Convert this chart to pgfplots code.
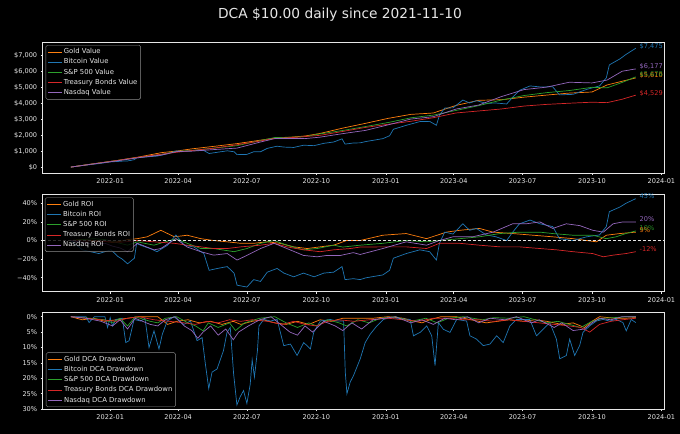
\documentclass[border=0pt]{standalone}
\usepackage{fontspec}
\setmainfont{DejaVu Sans}
\usepackage{pgfplots}
\pgfplotsset{compat=1.18}
\definecolor{cgold}{HTML}{FF7F0E}
\definecolor{cbtc}{HTML}{1F77B4}
\definecolor{csp}{HTML}{2CA02C}
\definecolor{ctb}{HTML}{D62728}
\definecolor{cnq}{HTML}{9467BD}
\definecolor{fg}{HTML}{E6E6E6}
\newcommand{\sz}{\fontsize{6.6}{7.6}\selectfont}
\newcommand{\lz}{\fontsize{6.9}{7.9}\selectfont}
\pgfplotsset{
 darkax/.style={
  scale only axis, width=621.3bp, clip=false,
  axis background/.style={fill=black},
  axis line style={fg, line width=0.6bp},
  every tick/.style={fg, line width=0.6bp},
  tick align=outside, major tick length=2bp,
  xtick pos=lower, ytick pos=left,
  ticklabel style={font=\sz, text=fg},
  xmin=-37.4, xmax=785.4,
  xtick={52,142,233,325,417,507,598,690,782},
  xticklabels={2022-01,2022-04,2022-07,2022-10,2023-01,2023-04,2023-07,2023-10,2024-01},
  legend style={fill=black, fill opacity=0.8, text opacity=1, draw=white!55!black,
    rounded corners=1.5bp, font=\lz, text=fg, inner sep=1.8bp,
    nodes={inner sep=1.45bp}, row sep=0.6bp},
  legend cell align=left,
  legend image code/.code={\draw[#1] (0bp,0bp) -- (14bp,0bp);},
  label style={font=\sz, text=fg},
  every axis plot/.append style={line width=0.7bp},
 },
 sg/.style={draw=cgold, color=cgold},
 sb/.style={draw=cbtc, color=cbtc},
 ss/.style={draw=csp, color=csp},
 st/.style={draw=ctb, color=ctb},
 sn/.style={draw=cnq, color=cnq},
}
\begin{document}
\begin{tikzpicture}
\fill[black] (0,0) rectangle (680bp,-434bp);
\node[anchor=base, font=\fontsize{13.8}{16}\selectfont, text=fg] at (340bp,-18.3bp) {DCA \$10.00 daily since 2021-11-10};

% ---------------- Top: value ----------------
\begin{axis}[darkax, at={(42.7bp,-173bp)}, anchor=south west, height=130.7bp,
  ymin=-363, ymax=7848,
  ytick={0,1000,2000,3000,4000,5000,6000,7000},
  yticklabels={{\$0},{\$1,000},{\$2,000},{\$3,000},{\$4,000},{\$5,000},{\$6,000},{\$7,000}},
  ylabel={Total Value (USD)},
  every axis y label/.style={at={(axis description cs:-0.059,0.5)}, rotate=90, anchor=center},
  legend style={at={(0.0048,0.979)}, anchor=north west}]
\addplot[sg] coordinates {(0,10)(30,216)(60,416)(90,644)(120,917)(140,1016)(160,1153)(190,1315)(220,1483)(250,1693)(270,1828)(290,1882)(310,1962)(330,2122)(360,2458)(390,2756)(420,3069)(450,3319)(480,3407)(510,3883)(540,4204)(570,4240)(600,4401)(630,4533)(660,4658)(690,4726)(710,5167)(730,5402)(748,5610)};
\addlegendentry{Gold Value}
\addplot[sb] coordinates {(0,10)(8,62)(15,102)(26,166)(37,227)(45,281)(53,337)(62,362)(68,382)(75,394)(84,475)(87,590)(92,610)(106,672)(114,698)(128,845)(139,1023)(150,989)(163,1051)(176,1048)(183,862)(194,940)(207,1031)(216,971)(220,791)(233,806)(242,970)(251,971)(260,1185)(273,1320)(282,1266)(295,1243)(308,1382)(322,1355)(335,1502)(348,1585)(359,1783)(363,1452)(374,1522)(383,1532)(391,1618)(413,1794)(422,1978)(427,2384)(444,2632)(462,2866)(475,2880)(484,2635)(488,3262)(495,3718)(506,3730)(519,4220)(528,4037)(537,4180)(550,4016)(563,4033)(577,3974)(585,4392)(594,4827)(608,5108)(621,5046)(638,5052)(647,4544)(665,4579)(683,4890)(700,5108)(709,5613)(713,6429)(727,6805)(735,7083)(748,7475)};
\addlegendentry{Bitcoin Value}
\addplot[ss] coordinates {(0,10)(30,220)(60,414)(90,619)(120,809)(140,991)(160,1054)(190,1202)(220,1354)(250,1668)(270,1865)(290,1882)(310,1926)(330,2095)(360,2309)(390,2555)(420,2808)(450,3102)(480,3275)(510,3567)(540,3869)(570,4220)(600,4504)(630,4685)(660,4817)(690,5021)(710,4986)(730,5327)(748,5678)};
\addlegendentry{S\&P 500 Value}
\addplot[st] coordinates {(0,10)(30,214)(60,414)(90,628)(120,817)(140,940)(160,1047)(190,1202)(220,1410)(250,1642)(270,1809)(290,1852)(310,1926)(330,2004)(360,2247)(390,2501)(420,2698)(450,2885)(480,3110)(510,3409)(540,3534)(570,3659)(600,3843)(630,3948)(660,4021)(690,4085)(710,4057)(730,4271)(748,4529)};
\addlegendentry{Treasury Bonds Value}
\addplot[sn] coordinates {(0,10)(30,207)(60,392)(90,603)(120,767)(140,982)(160,1009)(190,1111)(220,1202)(250,1572)(270,1800)(290,1802)(310,1798)(330,1890)(360,2111)(390,2313)(420,2663)(450,3024)(480,3176)(510,3655)(540,3906)(570,4436)(600,4876)(630,5032)(660,5339)(690,5296)(710,5475)(730,6030)(748,6177)};
\addlegendentry{Nasdaq Value}
\node[anchor=base west, inner sep=0pt, font=\sz, text=cbtc] at (axis cs:753,7475) {\$7,475};
\node[anchor=base west, inner sep=0pt, font=\sz, text=cnq] at (axis cs:753,6177) {\$6,177};
\node[anchor=base west, inner sep=0pt, font=\sz, text=cgold] at (axis cs:753,5610) {\$5,610};
\node[anchor=base west, inner sep=0pt, font=\sz, text=csp, opacity=0.85] at (axis cs:753,5678) {\$5,678};
\node[anchor=base west, inner sep=0pt, font=\sz, text=ctb] at (axis cs:753,4529) {\$4,529};
\end{axis}

% ---------------- Middle: ROI ----------------
\begin{axis}[darkax, at={(42.7bp,-291.7bp)}, anchor=south west, height=97.7bp,
  ymin=-55, ymax=50,
  ytick={-40,-20,0,20,40},
  yticklabels={{−40\%},{−20\%},{0\%},{20\%},{40\%}},
  ylabel={\% Return},
  every axis y label/.style={at={(axis description cs:-0.047,0.5)}, rotate=90, anchor=center},
  legend style={at={(0.0037,0.964)}, anchor=north west}]
\addplot[sg] coordinates {(0,0)(15,1)(30,0)(45,-1)(55,-2)(65,-1)(75,1)(88,2)(101,4)(119,11)(137,4)(154,5.7)(172,2)(189,0)(207,-1.4)(225,-3)(242,-3)(260,-1.4)(277,-3)(295,-6.8)(313,-8.6)(330,-6.8)(348,-5)(365,0)(383,0)(413,5.7)(444,7.5)(471,2)(497,9)(515,11)(541,13)(559,9)(585,7.5)(612,5.7)(638,4)(665,2)(683,0)(696,-1.4)(709,5.7)(727,7.5)(748,9)};
\addlegendentry{Gold ROI}
\addplot[sb] coordinates {(0,0)(8,-5)(15,-10)(26,-12)(37,-14)(45,-12)(53,-10)(62,-17)(68,-20)(75,-25)(84,-19)(87,-3)(92,-5)(106,-9)(114,-12)(128,-5)(139,6)(150,-5)(163,-7)(176,-14)(183,-32)(194,-30)(207,-28)(216,-35)(220,-48)(233,-50)(242,-42)(251,-44)(260,-34)(273,-30)(282,-35)(295,-39)(308,-35)(322,-39)(335,-35)(348,-34)(359,-28)(363,-42)(374,-41)(383,-42)(391,-40)(413,-37)(422,-32)(427,-19)(444,-14)(462,-10)(475,-12)(484,-21)(488,-3)(495,9)(506,7)(519,18)(528,11)(537,13)(550,6)(563,4)(577,0)(585,9)(594,18)(608,22)(621,18)(638,15)(647,2)(665,0)(683,4)(700,6)(709,15)(713,31)(727,36)(735,40)(748,45)};
\addlegendentry{Bitcoin ROI}
\addplot[ss] coordinates {(0,0)(15,1)(30,2)(45,1)(55,-1)(65,-3)(75,-5)(88,-1.4)(110,-5)(139,2)(154,-3)(172,-8.6)(189,-8.6)(216,-12)(233,-8.6)(251,-3)(269,0)(286,-5)(308,-10)(326,-8.6)(348,-5)(360,-7)(383,-5)(413,-3)(444,0)(471,-1.4)(488,0)(515,2)(541,4)(568,7.5)(594,9)(621,9)(638,7.5)(665,5.7)(691,5.7)(709,2)(722,4)(735,7.5)(748,10.3)};
\addlegendentry{S\&P 500 ROI}
\addplot[st] coordinates {(0,0)(20,-0.5)(45,-1)(65,-2)(88,0)(110,-1.4)(137,-3)(154,-5)(172,-6.8)(189,-8.6)(207,-8.6)(225,-6.8)(251,-5)(269,-3)(286,-6.8)(308,-10)(330,-12)(348,-10)(370,-8.6)(383,-7)(413,-6.8)(444,-6.8)(471,-8.6)(488,-3)(515,-3)(541,-5)(568,-6.8)(594,-6.8)(621,-8.6)(643,-10)(665,-12)(691,-14)(705,-17.5)(718,-15.7)(735,-14)(748,-12)};
\addlegendentry{Treasury Bonds ROI}
\addplot[sn] coordinates {(0,0)(15,-2)(30,-4)(45,-3)(55,-6)(65,-8)(75,-12)(88,-3)(110,-10)(119,-8.6)(139,2)(154,-7)(172,-12)(189,-15.7)(207,-14)(220,-21)(233,-16)(251,-8.6)(269,-3)(286,-8.6)(308,-16)(326,-17.5)(339,-16)(357,-16)(374,-13)(383,-15)(413,-8.6)(444,-1.4)(471,-5)(488,0)(506,4)(532,4)(559,9)(585,18)(603,18)(621,20)(638,13)(656,18)(674,16)(691,11)(705,9)(718,18)(731,20)(748,20)};
\addlegendentry{Nasdaq ROI}
\addplot[fg, line width=0.6bp, dash pattern=on 3bp off 2bp, forget plot] coordinates {(-37.4,0)(785.4,0)};
\node[anchor=base west, inner sep=0pt, font=\sz, text=cbtc] at (axis cs:753,45) {45\%};
\node[anchor=base west, inner sep=0pt, font=\sz, text=cnq] at (axis cs:753,20) {20\%};
\node[anchor=base west, inner sep=0pt, font=\sz, text=cgold] at (axis cs:753,9) {9\%};
\node[anchor=base west, inner sep=0pt, font=\sz, text=csp, opacity=0.85] at (axis cs:753,10.3) {10\%};
\node[anchor=base west, inner sep=0pt, font=\sz, text=ctb] at (axis cs:753,-12) {-12\%};
\end{axis}

% ---------------- Bottom: drawdown ----------------
\begin{axis}[darkax, at={(42.7bp,-409.3bp)}, anchor=south west, height=97bp,
  ymin=-1.43, ymax=30.1, y dir=reverse,
  ytick={0,5,10,15,20,25,30},
  yticklabels={{0\%},{5\%},{10\%},{15\%},{20\%},{25\%},{30\%}},
  ylabel={Drawdown \%}, xlabel={Date},
  every axis y label/.style={at={(axis description cs:-0.0445,0.5)}, rotate=90, anchor=center},
  every axis x label/.style={at={(axis description cs:0.5,-0.182)}, anchor=center},
  legend style={at={(0.0053,0.024)}, anchor=south west}]
\addplot[sg] coordinates {(0,0)(15,1)(30,0.5)(45,1.5)(60,1)(75,0.5)(90,0)(115,0)(128,2.5)(140,1.5)(155,1)(170,2)(185,1.5)(200,2.5)(215,1.5)(225,2.5)(240,1.5)(255,1)(270,2)(285,2.5)(300,1.5)(315,2.5)(330,1)(345,1.5)(360,0.5)(380,0.5)(400,0.5)(420,0)(440,0.5)(455,1.5)(465,2)(475,1)(490,0)(510,0)(530,1)(550,2)(565,1.5)(580,1)(600,1.5)(615,1)(630,1.5)(650,2.5)(665,2)(680,3.5)(690,1.5)(700,0)(720,0.5)(735,0.5)(748,0.3)};
\addlegendentry{Gold DCA Drawdown}
\addplot[sb] coordinates {(0,0)(20,0)(24,1.9)(31,0)(45,0)(48.5,3.5)(52,0.3)(55,3)(59.5,0.9)(68,0.5)(72.6,8.4)(77,7.8)(83.6,0.9)(92.4,1.4)(98,0.5)(103.4,10)(110,4.6)(116.6,10.5)(121,5.7)(127.6,1.4)(136.4,0)(149.5,2.5)(158.3,1.4)(167,7.8)(173.7,6.8)(178,15.3)(182.5,23.4)(186.9,18)(193.5,17)(202,11)(206.7,5.1)(211,3.5)(215.4,18.5)(219.8,28.7)(224.2,26)(228.6,24)(233,28.2)(237.4,22)(240,14)(243,19.6)(247,11)(249,3)(255.4,0.9)(264.2,1.4)(273,0.9)(281.8,9.4)(290.7,8.9)(299.5,12.6)(308.3,8.4)(317.1,10.5)(321.5,5.1)(330.3,1.4)(343.5,0.9)(352.3,1.4)(361.1,1.4)(363.3,18)(365.5,25)(369.9,21.2)(374.3,19.1)(378.7,16.4)(383.1,13.7)(389.7,8.4)(396.3,5.7)(405.1,3)(413.9,0.9)(422.8,0.3)(449.2,0.9)(453.6,6.2)(462.4,5.1)(471.2,3)(477.8,6.2)(482.2,15.9)(486.6,1.9)(493.2,4.1)(502,5.1)(510.8,0.9)(524,1.4)(528.4,6.2)(537.2,7.3)(546,9.4)(554.9,8.9)(563.7,6.2)(572.5,8.4)(581.3,3)(590.1,0.9)(607.7,0.9)(616.5,6.2)(625.3,4.1)(634.1,1.9)(642.9,7.3)(647.3,13.7)(656.1,12.6)(660.5,7.3)(667.1,12.6)(673.7,9.4)(678.1,5.1)(686.9,3)(695.8,1.4)(704.6,0.9)(713.4,1.4)(722.2,0.9)(731,1.9)(735.4,4.6)(742,0.9)(748,1.9)};
\addlegendentry{Bitcoin DCA Drawdown}
\addplot[ss] coordinates {(0,0)(25,0.5)(45,1)(55,2)(65,0.5)(75,3)(85,0)(105,1.5)(115,2)(125,0.5)(140,0)(155,2)(165,3)(175,4.6)(182,2)(195,3.5)(210,2)(218,4.5)(230,2)(250,0.5)(270,0)(285,2)(300,3.5)(315,2)(325,3)(340,1)(355,2)(365,3)(380,1)(395,2)(410,0.5)(430,0)(450,1.5)(470,0.5)(485,2)(500,0.5)(520,0)(545,1)(560,0.3)(580,0.5)(600,0)(615,1)(630,2)(645,1.5)(660,2.5)(675,3.5)(690,1.5)(705,0.5)(720,0.3)(735,0)(748,0)};
\addlegendentry{S\&P 500 DCA Drawdown}
\addplot[st] coordinates {(0,0)(20,0.5)(40,1)(60,1.5)(75,0.5)(90,0)(110,1)(130,1.5)(150,2)(165,2.5)(180,1.5)(195,2)(210,1)(225,1.5)(240,1)(260,1.5)(280,2.5)(295,1.5)(310,2.5)(325,3)(340,1.5)(355,1)(375,1.5)(395,1)(420,0.5)(440,1)(460,1.5)(480,0.5)(500,0.5)(520,1)(540,1)(560,1.5)(580,1)(600,1.5)(620,2)(640,2.5)(660,3)(675,3.5)(687,5)(700,2.5)(715,1.5)(730,1)(748,0.5)};
\addlegendentry{Treasury Bonds DCA Drawdown}
\addplot[sn] coordinates {(0,0)(20,0.5)(40,1.5)(55,3)(65,1)(75,4)(85,0.5)(105,2.5)(115,3)(125,1)(138,0)(150,3)(160,4.5)(168,7)(175,5)(185,3)(195,6)(205,4)(215,7.5)(222,5)(235,3)(250,1)(265,0)(280,3)(290,5)(300,6)(310,3)(320,5)(335,1.5)(350,3)(360,4.5)(372,2)(385,4)(400,1)(415,0.5)(430,0)(450,2)(465,1)(480,2.5)(495,0.5)(510,1)(525,0)(540,2)(555,0.5)(575,1)(590,0)(610,2)(620,1)(640,3.5)(650,2)(665,4.5)(680,4)(690,2)(700,0.5)(715,1)(730,0)(748,0)};
\addlegendentry{Nasdaq DCA Drawdown}
\end{axis}
\pgfresetboundingbox
\useasboundingbox (0,0) rectangle (680bp,-434bp);
\end{tikzpicture}
\end{document}
